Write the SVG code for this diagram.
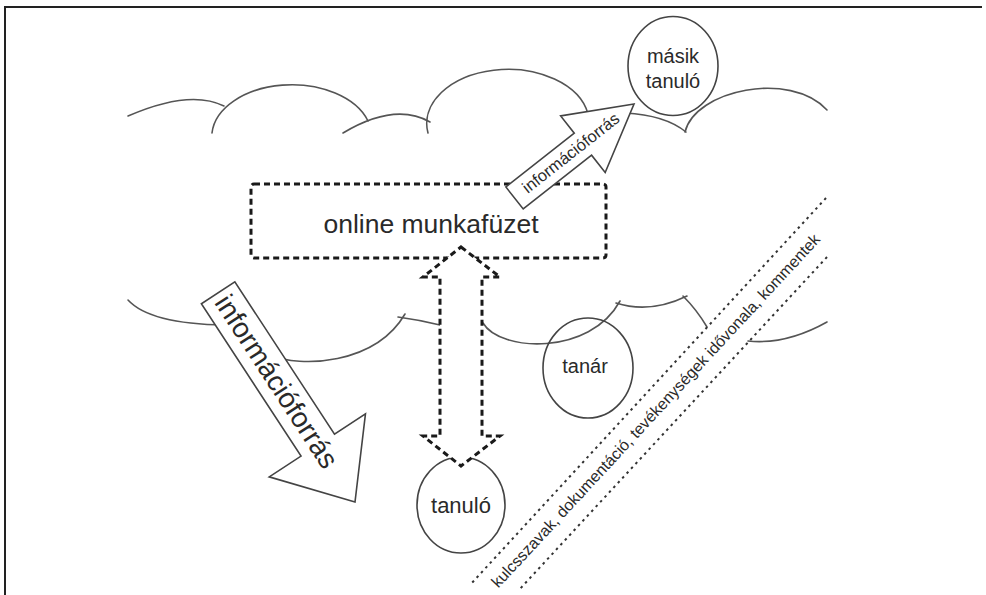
<svg xmlns="http://www.w3.org/2000/svg" width="986" height="595" viewBox="0 0 986 595">
<style>
.frame{stroke:#222;stroke-width:2;fill:none}
.cloud{stroke:#555;stroke-width:1.6;fill:none;stroke-linecap:round}
.circ{stroke:#444;stroke-width:1.6;fill:none}
.dash{stroke:#1a1a1a;stroke-width:3;stroke-dasharray:6 4;fill:#fff}
.arrow{stroke:#444;stroke-width:1.6;fill:#fff;stroke-linejoin:miter}
.dot{stroke:#333;stroke-width:2;stroke-dasharray:2.5 4;fill:none}
text{font-family:"Liberation Sans",Arial,sans-serif;fill:#2a2a2a}
</style>
<rect width="986" height="595" fill="#fff"/>
<path class="frame" d="M5,595 V7 H982"/>
<g id="cloud-top">
<path class="cloud" d="M128,116 Q190,89 224,106"/>
<path class="cloud" d="M212,133 A80,52 0 0 1 368,121"/>
<path class="cloud" d="M343,133 Q395,102 430,122"/>
<path class="cloud" d="M428,133 A78,52 0 0 1 588,114"/>
<path class="cloud" d="M625,113 Q665,115 686,132"/>
<path class="cloud" d="M685,132 C695,90 790,70 827,110"/>
</g>
<g id="cloud-bottom">
<path class="cloud" d="M128,300 Q150,324 225,325"/>
<path class="cloud" d="M270,355 C300,368 375,365 405,314"/>
<path class="cloud" d="M398,317 Q420,320 440,325"/>
<path class="cloud" d="M483,323 C500,352 590,356 620,301"/>
<path class="cloud" d="M616,303 Q650,314 687,296"/>
<path class="cloud" d="M683,296 Q697,310 707,327"/>
<path class="cloud" d="M748,341 Q786,345 827,322"/>
</g>
<g id="masik-tanulo">
<ellipse class="circ" cx="673" cy="66" rx="45" ry="49.5"/>
<text x="673" y="63" font-size="20" text-anchor="middle">másik</text>
<text x="673" y="88" font-size="20" text-anchor="middle">tanuló</text>
</g>
<g id="tanar">
<ellipse class="circ" cx="588" cy="368" rx="45" ry="50"/>
<text x="585" y="373" font-size="20" text-anchor="middle">tanár</text>
</g>
<g id="tanulo">
<ellipse class="circ" cx="461" cy="505" rx="44" ry="48"/>
<text x="461" y="513" font-size="22" text-anchor="middle">tanuló</text>
</g>
<g id="online-munkafuzet">
<rect class="dash" x="251" y="184" width="355" height="74" rx="3" fill="none" style="fill:none"/>
<text x="431" y="233" font-size="26.5" text-anchor="middle">online munkafüzet</text>
</g>
<g id="connectors">
<path class="dash" d="M461,247 L500,277 L482,277 L482,436 L500,436 L461,466 L423,436 L440,436 L440,277 L423,277 Z"/>
<g transform="translate(634,104) rotate(-38.2)">
<polygon class="arrow" points="0,0 -65,-36 -65,-14 -152,-14 -152,14 -65,14 -65,36"/>
<text x="-139" y="5" font-size="16.5">információforrás</text>
</g>
<g transform="translate(355,502) rotate(56.8)">
<polygon class="arrow" points="0,0 -68,58 -68,20 -250,20 -250,-20 -68,-20 -68,-57"/>
<text x="-244" y="9" font-size="28">információforrás</text>
</g>
<path class="dot" d="M826,198 L470,585"/>
<path class="dot" d="M827,257 L518,591"/>
<text transform="translate(656,411) rotate(-47.2)" x="0" y="5" font-size="16" text-anchor="middle">kulcsszavak, dokumentáció, tevékenységek idővonala, kommentek</text>
</g>
</svg>
